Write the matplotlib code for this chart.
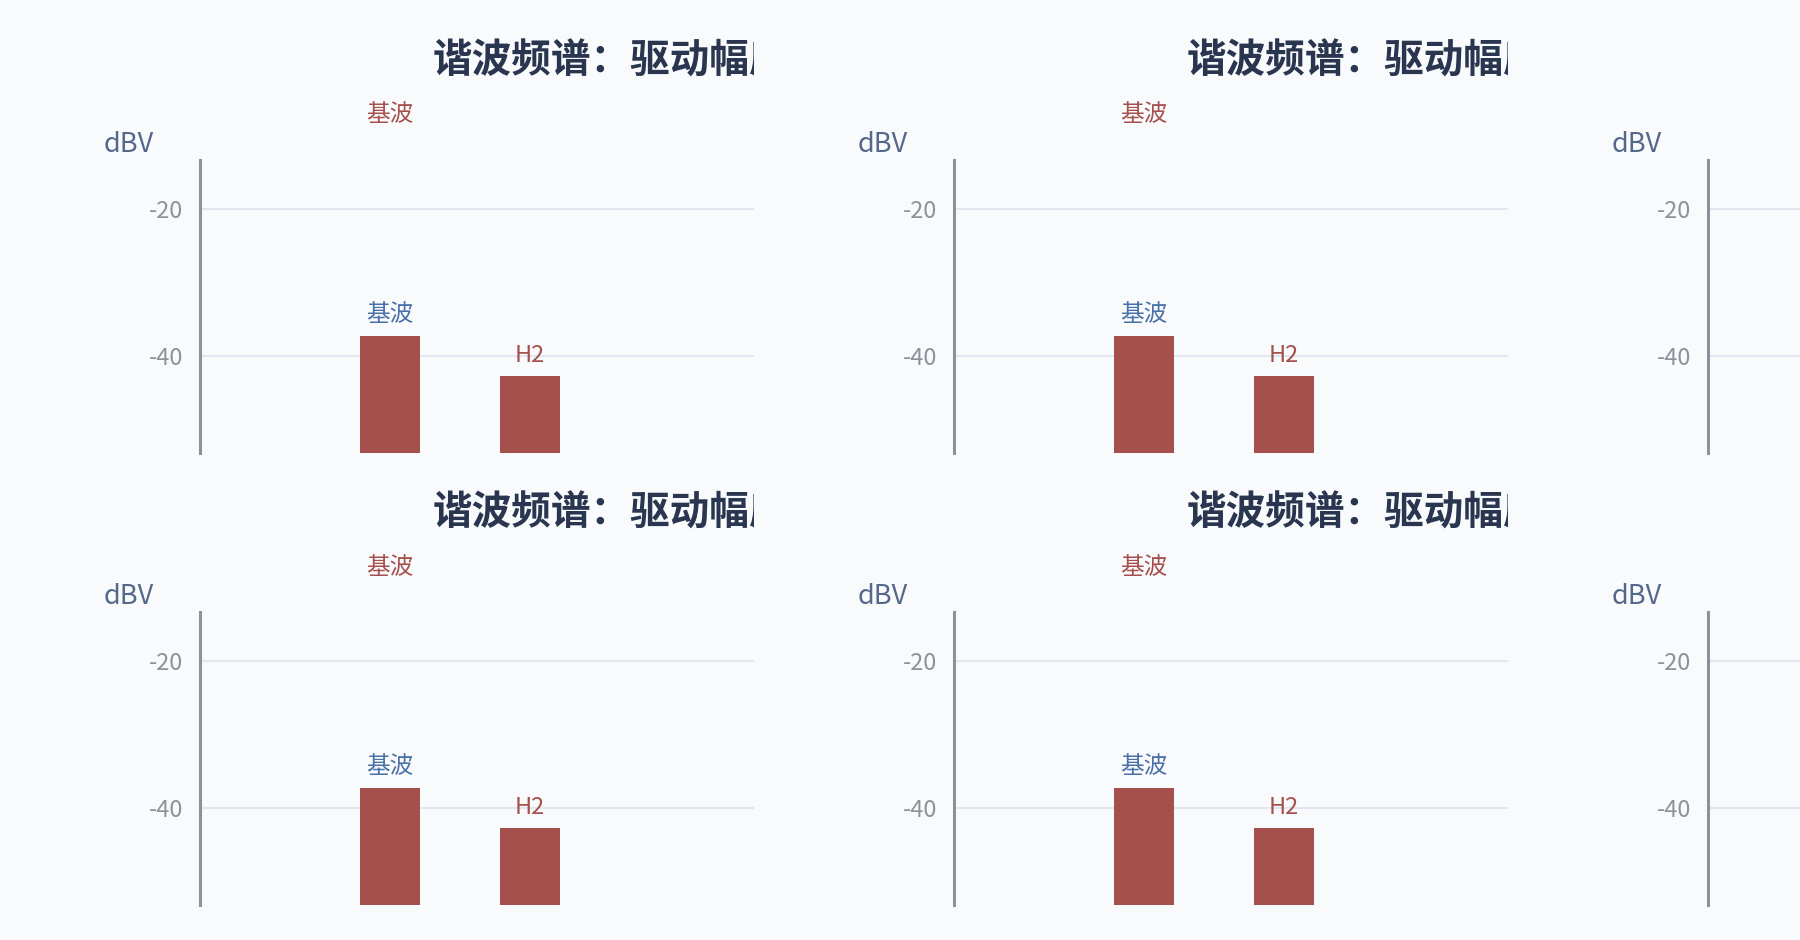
import matplotlib
matplotlib.use('Agg')
import matplotlib.pyplot as plt

plt.rcParams['font.family'] = ['Noto Sans CJK SC', 'DejaVu Sans']

# data
harmonics = ['基波', 'H2']
levels_dbv = [-37.3, -42.8]
y_ticks = [-20, -40]
y_range = (-53.25, -13.3)
title = '谐波频谱：驱动幅度'
unit = 'dBV'

# colours
bg_color = '#f8fafc'
bar_color = '#a5504d'
blue_label = '#4a70a8'
axis_color = '#8d9199'
grid_color = '#e1e7f1'
title_color = '#2a3550'
unit_color = '#55678a'

W, H = 1800, 940
tile_w, tile_h = 754, 452
plot_left, plot_top = 200, 160


def rect(x0, y0, x1, y1):
    return [x0 / W, 1 - y1 / H, (x1 - x0) / W, (y1 - y0) / H]


fig = plt.figure(figsize=(W / 100, H / 100), dpi=100)
fig.patch.set_facecolor(bg_color)

for r in range(2):
    for c in range(3):
        tx, ty = c * tile_w, r * tile_h
        visible_mid = tx + 433 < W  # title / bars of the last column fall off the picture

        # whole tile, used for clipping the title
        bg = fig.add_axes(rect(tx, ty, tx + tile_w, ty + tile_h))
        bg.set_axis_off()
        if visible_mid:
            bg.text(433 / tile_w, 1 - 61 / tile_h, title, transform=bg.transAxes,
                    ha='left', va='center', fontsize=28.5, fontweight='bold',
                    color=title_color, clip_on=True)
        bg.text(129 / tile_w, 1 - 145 / tile_h, unit, transform=bg.transAxes,
                ha='center', va='center', fontsize=19.5, color=unit_color)

        ax = fig.add_axes(rect(tx + plot_left, ty + plot_top, tx + tile_w, ty + tile_h + 0.7))
        ax.set_facecolor('none')
        x = list(range(len(harmonics)))
        base = y_range[0]
        ax.bar(x, [v - base for v in levels_dbv], width=0.43, bottom=base,
               color=bar_color, zorder=3)
        ax.set_xlim(-(390 - plot_left) / 140, (tile_w - 390) / 140)
        ax.set_ylim(*y_range)
        ax.set_yticks(y_ticks)
        ax.set_yticklabels([str(t) for t in y_ticks])
        ax.tick_params(axis='y', length=0, pad=12, labelsize=17, labelcolor=axis_color)
        ax.set_xticks([])
        ax.grid(axis='y', color=grid_color, linewidth=1.5, zorder=0)
        for side in ['top', 'right', 'bottom']:
            ax.spines[side].set_visible(False)
        ax.spines['left'].set_color(axis_color)
        ax.spines['left'].set_linewidth(2.2)

        if visible_mid:
            # bar labels
            label_colors = [blue_label, bar_color]
            for i, (name, v) in enumerate(zip(harmonics, levels_dbv)):
                ax.annotate(name, xy=(i, v), xytext=(0, 21), textcoords='offset pixels',
                            ha='center', va='center', fontsize=17, color=label_colors[i])

            # legend-like label above the plot
            ax.annotate(harmonics[0], xy=(0, 1), xycoords=('data', 'axes fraction'),
                        xytext=(0, 45), textcoords='offset pixels',
                        ha='center', va='center', fontsize=17, color=bar_color)

fig.savefig('out.png', dpi=100, facecolor=bg_color)
